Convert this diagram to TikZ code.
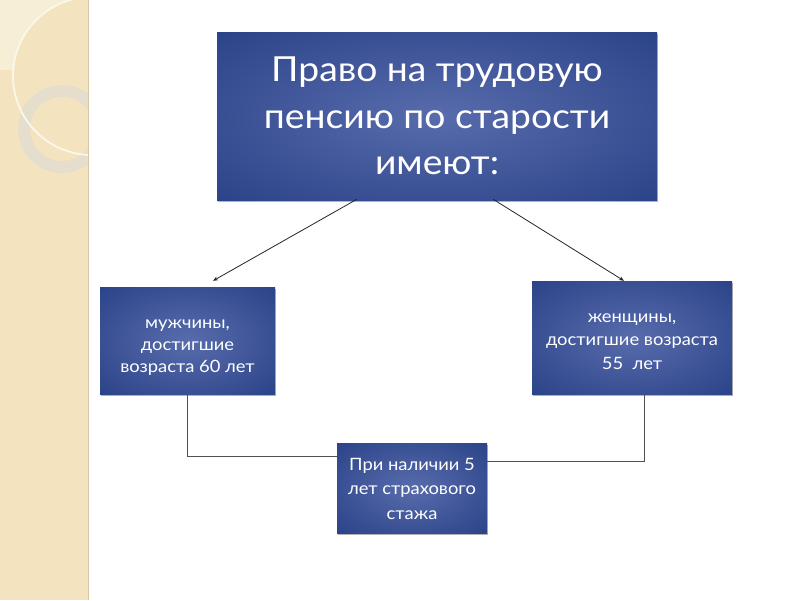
\documentclass[tikz,border=0pt]{standalone}
\usepackage{fontspec}
\setmainfont[FakeStretch=1.08]{Lato}
\usetikzlibrary{shadows,arrows.meta,calc}
\definecolor{strip}{RGB}{243,228,191}
\definecolor{stripedge}{RGB}{214,200,168}
\definecolor{stripLight}{RGB}{247,238,214}
\definecolor{ringc}{RGB}{228,222,206}
\definecolor{arcc}{RGB}{251,247,236}
\definecolor{boxin}{RGB}{88,108,172}
\definecolor{boxout}{RGB}{40,64,134}
\definecolor{linec}{RGB}{80,80,80}
\pgfdeclareradialshading{boxshade}{\pgfpoint{0bp}{0bp}}{color(0bp)=(boxin); color(38bp)=(boxout); color(50bp)=(boxout)}
\begin{document}
\begin{tikzpicture}[x=1pt,y=-1pt,
  box/.style={shading=boxshade, text=white, align=center, inner sep=0pt,
    drop shadow={shadow xshift=1pt, shadow yshift=-2pt, opacity=0.3, fill=black}},
  arr/.style={draw=black!85, line width=0.8pt, -{Stealth[length=5pt,width=4pt]}},
  conn/.style={draw=linec, line width=0.9pt}
]
\useasboundingbox (0,0) rectangle (800,600);
\fill[white] (0,0) rectangle (800,600);
% left decorative strip
\fill[strip] (0,0) rectangle (88,600);
\fill[stripLight] (0,0) -- (70.4,0)
  arc[start angle=-105.9, end angle=-175.6, radius=79] -- (0,70) -- cycle;
\begin{scope}
  \clip (0,0) rectangle (88,600);
  \fill[ringc, opacity=0.9, even odd rule] (62,129) circle (44) (62,129) circle (32);
  \draw[arcc, line width=1.8pt] (92,76) circle (79);
\end{scope}
\draw[stripedge, line width=1pt] (88,0) -- (88,600);

% boxes
\node[box, minimum width=440pt, minimum height=168pt,
  font=\fontsize{34.5}{46.5}\selectfont] (top) at (437,116)
  {Право на трудовую\\пенсию по старости\\имеют:};
\node[box, minimum width=175pt, minimum height=107pt,
  font=\fontsize{17}{22}\selectfont] (men) at (187.5,340.5)
  {\rule{0pt}{22pt}мужчины,\\достигшие\\возраста 60 лет};
\node[box, minimum width=200pt, minimum height=113pt,
  font=\fontsize{17}{23.5}\selectfont] (women) at (632,337.5)
  {\rule{0pt}{17pt}женщины,\\достигшие возраста\\55\ \ лет};
\node[box, minimum width=150pt, minimum height=90pt,
  font=\fontsize{17}{24.5}\selectfont] (bot) at (412,488)
  {\rule{0pt}{14pt}При наличии 5\\лет страхового\\стажа};

% arrows
\draw[arr] ($(top.south)+(-80,-1)$) -- ($(men.north)+(25.5,-6)$);
\draw[arr] ($(top.south)+(56,-1)$) -- ($(women.north)+(-8,0)$);

% connectors
\draw[conn] (men.south) |- ($(bot.west)+(0,-32)$);
\draw[conn] ($(women.south)+(12,0)$) |- ($(bot.east)+(0,-27)$);
\end{tikzpicture}
\end{document}
